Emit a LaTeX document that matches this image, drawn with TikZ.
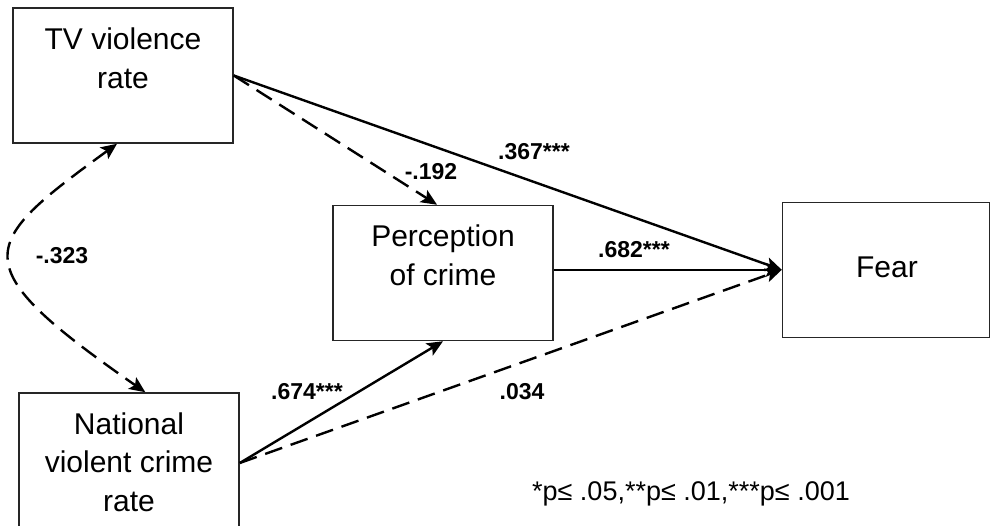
\documentclass[tikz,border=0pt]{standalone}
\usepackage{fontspec}
\setmainfont{Liberation Sans}
\usetikzlibrary{arrows.meta}
\begin{document}
\begin{tikzpicture}[x=1pt,y=-1pt,
  box/.style={draw=black!85,line width=1.5pt,rectangle,inner sep=0pt},
  boxtext/.style={align=center,font=\fontsize{30}{38.5}\selectfont,inner sep=0pt},
  coef/.style={font=\bfseries\fontsize{23}{26}\selectfont,inner sep=0pt,anchor=base},
  tip/.style={Stealth[length=16pt,width=14pt,inset=3.5pt]},
  path/.style={line width=2.4pt,-{Stealth[length=16pt,width=14pt,inset=3.5pt]}},
  dpath/.style={path,dash pattern=on 18pt off 9pt}]
\useasboundingbox (0,0) rectangle (991,526);
\clip (0,0) rectangle (991,526);
% boxes
\node[box,minimum width=220pt,minimum height=135pt] (tv) at (123,75.5) {};
\node[box,minimum width=220pt,minimum height=135pt] (perc) at (443,273) {};
\node[box,minimum width=220pt,minimum height=140pt] (nat) at (129,463) {};
\node[box,minimum width=207pt,minimum height=135pt] (fear) at (886,269.8) {};
% texts
\node[boxtext] (tvt) at (123,58.5) {TV violence\\rate};
\node[boxtext] (perct) at (443,255.5) {Perception\\of crime};
\node[boxtext] (natt) at (129,462) {National\\violent crime\\rate};
\node[boxtext,anchor=base] (feart) at (887,278) {Fear};
% connectors
\draw[path] (tv.east) -- (fear.west);
\draw[dpath] (tv.east) -- (perc.95);
\draw[path] (perc.east |- fear.west) -- (fear.west);
\draw[path] (nat.east) -- (perc.south);
\draw[dpath] (nat.east) -- (fear.west);
\draw[dpath,{Stealth[length=16pt,width=14pt,inset=3.5pt]}-{Stealth[length=16pt,width=14pt,inset=3.5pt]}]
  (tv.265) .. controls (-22,245) and (-39,264) .. (nat.77);
% coefficients
\node[coef] (c1) at (534,160) {.367***};
\node[coef] (c2) at (431,180) {-.192};
\node[coef] (c3) at (634,258) {.682***};
\node[coef] (c4) at (307,400) {.674***};
\node[coef] (c5) at (522,400) {.034};
\node[coef] (c6) at (62,264) {-.323};
\node[anchor=base,inner sep=0pt,font=\fontsize{27}{30}\selectfont] (note) at (691,500.5) {*p≤ .05,**p≤ .01,***p≤ .001};
\end{tikzpicture}
\end{document}
